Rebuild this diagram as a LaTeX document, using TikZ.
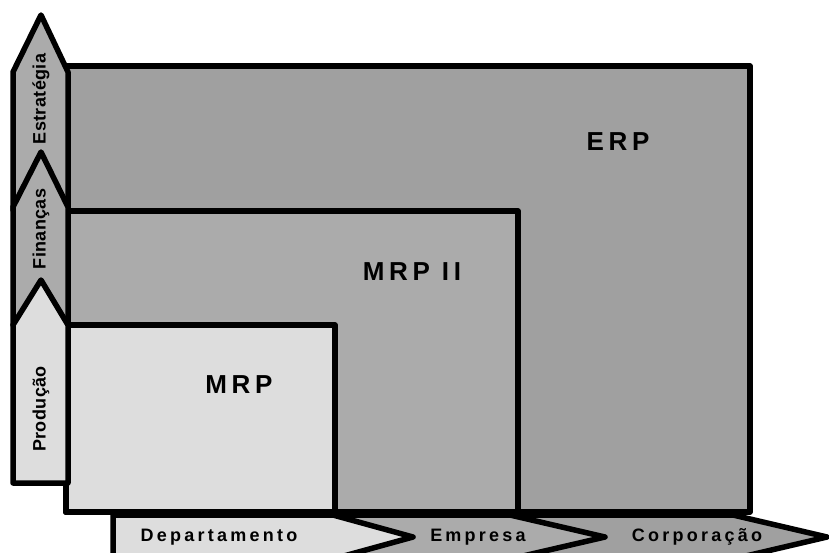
\documentclass[tikz,border=0pt]{standalone}
\usepackage{fontspec}
\setmainfont{Liberation Sans}
\usetikzlibrary{positioning}

\definecolor{erpgray}{HTML}{A0A0A0}
\definecolor{mrpiigray}{HTML}{ABABAB}
\definecolor{mrpgray}{HTML}{DDDDDD}

\begin{document}
\begin{tikzpicture}[x=1pt,y=-1pt,
    box/.style={draw=black,line width=5.5pt,line join=round},
    big/.style={font=\bfseries\addfontfeature{LetterSpace=18}\fontsize{26}{30}\selectfont},
    side/.style={rotate=90,font=\bfseries\addfontfeature{LetterSpace=2}\fontsize{18}{21}\selectfont},
    foot/.style={font=\bfseries\addfontfeature{LetterSpace=18}\fontsize{18}{21}\selectfont}]
    \useasboundingbox (0,0) rectangle (829,552);

    % nivel de abrangencia
    \draw[box,fill=erpgray] (66,66) rectangle (750,512);
    \draw[box,fill=mrpiigray] (66,211) rectangle (518,512);
    \draw[box,fill=mrpgray] (66,325) rectangle (335,512);

    \node[big] (erp) at (618,142) {ERP};
    \node[big] (mrpii) at (412,272) {MRP II};
    \node[big] (mrp) at (239,385) {MRP};

    % setas verticais
    \draw[box,fill=mrpiigray] (13,210) -- (13,72) -- (41,15) -- (68,72) -- (68,210) -- cycle;
    \draw[box,fill=mrpiigray] (13,325) -- (13,207) -- (41,152) -- (68,207) -- (68,325) -- cycle;
    \draw[box,fill=mrpgray] (13,483) -- (13,325) -- (41,280) -- (68,325) -- (68,483) -- cycle;

    \node[side] (estrategia) at (41,99) {Estratégia};
    \node[side] (financas) at (41,229) {Finanças};
    \node[side] (producao) at (41,409) {Produção};

    % setas horizontais
    \draw[box,fill=erpgray] (510,515) -- (733,515) -- (827,537) -- (733,559) -- (510,559) -- cycle;
    \draw[box,fill=mrpiigray] (333,515) -- (510,515) -- (605,537) -- (510,559) -- (333,559) -- cycle;
    \draw[box,fill=mrpgray] (113,515) -- (333,515) -- (413,537) -- (333,559) -- (113,559) -- cycle;

    \node[foot] (departamento) at (219,537) {Departamento};
    \node[foot] (empresa) at (478,537) {Empresa};
    \node[foot] (corporacao) at (697,537) {Corporação};
\end{tikzpicture}
\end{document}
